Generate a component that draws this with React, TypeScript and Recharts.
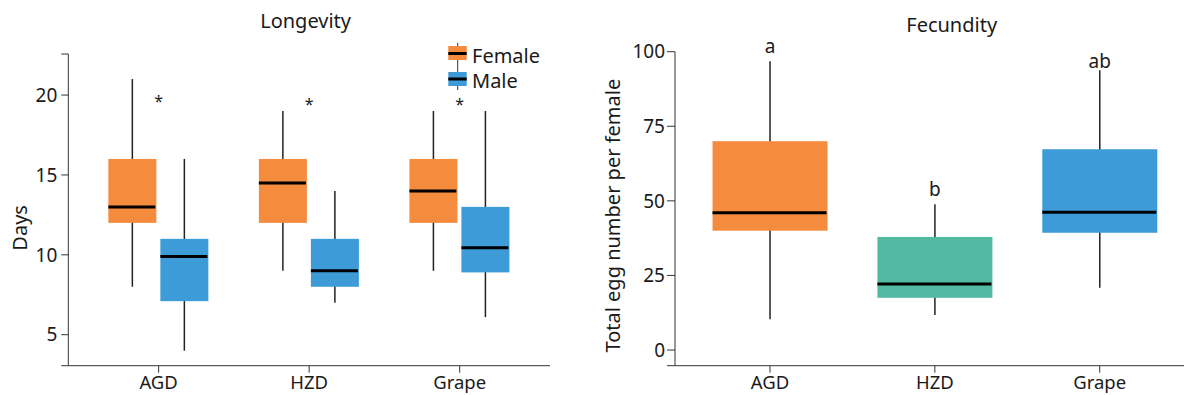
import { ComposedChart, Bar, Scatter, XAxis, YAxis } from 'recharts';

const groups = ['AGD', 'HZD', 'Grape'];
const groupX = [1, 2, 3];

// Longevity, days (min, q1, median, q3, max)
const femaleMin = [8, 9, 9];
const femaleQ1 = [12, 12, 12];
const femaleMed = [13, 14.5, 14];
const femaleQ3 = [16, 16, 16];
const femaleMax = [21, 19, 19];

const maleMin = [4, 7, 6.1];
const maleQ1 = [7.1, 8, 8.9];
const maleMed = [9.9, 9, 10.45];
const maleQ3 = [11, 11, 13];
const maleMax = [16, 14, 19];

const starY = [19.8, 19.65, 19.65];
const longevityTicks = [3.06, 5, 10, 15, 20, 22.57];

// Fecundity, total eggs per female
const fecMin = [10.3, 11.7, 20.9];
const fecQ1 = [40, 17.5, 39.3];
const fecMed = [46, 22.1, 46.2];
const fecQ3 = [70, 37.9, 67.3];
const fecMax = [96.8, 48.9, 93.8];

const letters = ['a', 'b', 'ab'];
const letterY = [99.4, 51.6, 94.4];
const fecundityTicks = [-5.26, 0, 25, 50, 75, 100];

const series = ['Female', 'Male'];
const seriesColors = ['#f58b3d', '#3d9bd8'];
const fecColors = ['#f58b3d', '#54b9a2', '#3d9bd8'];

const longevityData = groups.map((g, i) => ({
  x: groupX[i],
  name: g,
  f: [femaleMin[i], femaleQ1[i], femaleMed[i], femaleQ3[i], femaleMax[i]],
  m: [maleMin[i], maleQ1[i], maleMed[i], maleQ3[i], maleMax[i]],
}));

const fecData = groups.map((g, i) => ({
  x: groupX[i],
  name: g,
  s: [fecMin[i], fecQ1[i], fecMed[i], fecQ3[i], fecMax[i]],
}));

const starData = groupX.map((x, i) => ({ x, y: starY[i] }));
const letterData = groupX.map((x, i) => ({ x, y: letterY[i], t: letters[i] }));

const ink = '#1a1a1a';
const axisColor = '#333';
const tickStyle = { fontSize: 19, fill: ink };
const xTickStyle = { fontSize: 18.5, fill: ink };

// range [q1, q3] for a box series, null for rows that are not boxes
const boxRange = (key: string) => (d: any) => (d && d[key] ? [d[key][1], d[key][3]] : null);

// bar covers q1..q3; whisker and median are placed with the same pixels-per-unit
const makeBox = (key: string, colorOf: (i: number) => string) => (p: any) => {
  const stats = p.payload && p.payload[key];
  if (!stats || !p.height) return <g />;
  const [lo, q1, med, q3, hi] = stats;
  const top = Math.min(p.y, p.y + p.height);
  const h = Math.abs(p.height);
  const k = h / (q3 - q1);
  const py = (v: number) => top + (q3 - v) * k;
  const cx = p.x + p.width / 2;
  return (
    <g>
      <line x1={cx} x2={cx} y1={py(hi)} y2={py(lo)} stroke="#222" strokeWidth={1.5} />
      <rect x={p.x} y={top} width={p.width} height={h} fill={colorOf(p.index)} />
      <line x1={p.x} x2={p.x + p.width - 1} y1={py(med)} y2={py(med)} stroke="#000" strokeWidth={3} />
    </g>
  );
};

const starShape = (p: any) => (
  <text x={p.cx} y={p.cy} dy={9} textAnchor="middle" fontSize={16} fill={ink}>*</text>
);

const letterShape = (p: any) => (
  <text x={p.cx} y={p.cy} textAnchor="middle" fontSize={19} fill={ink}>{p.payload && p.payload.t}</text>
);

const yTitle = (text: string, cx: number, shift: number) => (p: any) => {
  const vb = p.viewBox || { y: 0, height: 0 };
  return (
    <text
      transform={`translate(${cx},${vb.y + vb.height / 2 + shift}) rotate(-90)`}
      textAnchor="middle"
      dominantBaseline="central"
      fontSize={20}
      fill={ink}
    >
      {text}
    </text>
  );
};

export default function App() {
  return (
    <div
      style={{
        position: 'fixed', left: 0, top: 0, width: 1184, height: 395,
        overflow: 'hidden', background: '#fff', fontFamily: "'Noto Sans', sans-serif",
      }}
    >
      <div style={{ position: 'absolute', left: 0, top: 0 }}>
        <ComposedChart width={600} height={395} data={longevityData} barGap={4}
          margin={{ top: 54, right: 50, bottom: 0, left: 0 }}>
          <XAxis dataKey="x" type="number" domain={[0.4, 3.6]} ticks={groupX} interval={0}
            tickFormatter={(v) => groups[groupX.indexOf(v)]} height={29.3} tickSize={7} tickMargin={3}
            stroke={axisColor} tick={xTickStyle} />
          <XAxis xAxisId="frame" dataKey="x" type="number" domain={[0.4, 3.6]} ticks={[0.4, 3.6]} interval={0}
            tickFormatter={() => ''} axisLine={false} height={0} tickSize={7} stroke={axisColor} />
          <YAxis type="number" domain={[3.06, 22.57]} ticks={longevityTicks} interval={0}
            tickFormatter={(v) => ([5, 10, 15, 20].includes(v) ? String(v) : '')}
            width={68.3} tickSize={7} tickMargin={4} stroke={axisColor} tick={tickStyle}
            label={yTitle('Days', 19, 18)} />
          <Bar dataKey={boxRange('f')} barSize={48} shape={makeBox('f', () => seriesColors[0])} isAnimationActive={false} />
          <Bar dataKey={boxRange('m')} barSize={48} shape={makeBox('m', () => seriesColors[1])} isAnimationActive={false} />
          <Scatter data={starData} dataKey="y" shape={starShape} isAnimationActive={false} />
        </ComposedChart>
      </div>

      <div style={{ position: 'absolute', left: 600, top: 0 }}>
        <ComposedChart width={600} height={395} data={fecData}
          margin={{ top: 51.7, right: 5.3, bottom: 0, left: 0 }}>
          <XAxis dataKey="x" type="number" domain={[0.424, 3.576]} ticks={groupX} interval={0}
            tickFormatter={(v) => groups[groupX.indexOf(v)]} height={29.3} tickSize={7} tickMargin={3}
            stroke={axisColor} tick={xTickStyle} />
          <XAxis xAxisId="frame" dataKey="x" type="number" domain={[0.424, 3.576]} ticks={[0.424]} interval={0}
            tickFormatter={() => ''} axisLine={false} height={0} tickSize={7} stroke={axisColor} />
          <YAxis type="number" domain={[-5.26, 100]} ticks={fecundityTicks} interval={0}
            tickFormatter={(v) => (v >= 0 ? String(v) : '')}
            width={75} tickSize={8} tickMargin={2} stroke={axisColor} tick={tickStyle}
            label={yTitle('Total egg number per female', 12, 7)} />
          <Bar dataKey={boxRange('s')} barSize={115} shape={makeBox('s', (i) => fecColors[i])} isAnimationActive={false} />
          <Scatter data={letterData} dataKey="y" shape={letterShape} isAnimationActive={false} />
        </ComposedChart>
      </div>

      <svg width={1184} height={395} style={{ position: 'absolute', left: 0, top: 0, pointerEvents: 'none' }}>
        <text x={305.6} y={27.7} textAnchor="middle" fontSize={20} fill={ink}>Longevity</text>
        <text x={951.7} y={31.7} textAnchor="middle" fontSize={20} fill={ink}>Fecundity</text>
        <line x1={457.7} x2={457.7} y1={43} y2={90} stroke={axisColor} strokeWidth={1} />
        {series.map((s, i) => (
          <g key={s}>
            <rect x={448.3} y={46 + i * 26} width={18.4} height={14} fill={seriesColors[i]} />
            <line x1={448.3} x2={466.7} y1={53.5 + i * 25.5} y2={53.5 + i * 25.5} stroke="#000" strokeWidth={3} />
            <text x={472} y={62.7 + i * 25.6} fontSize={20} fill={ink}>{s}</text>
          </g>
        ))}
      </svg>
    </div>
  );
}
